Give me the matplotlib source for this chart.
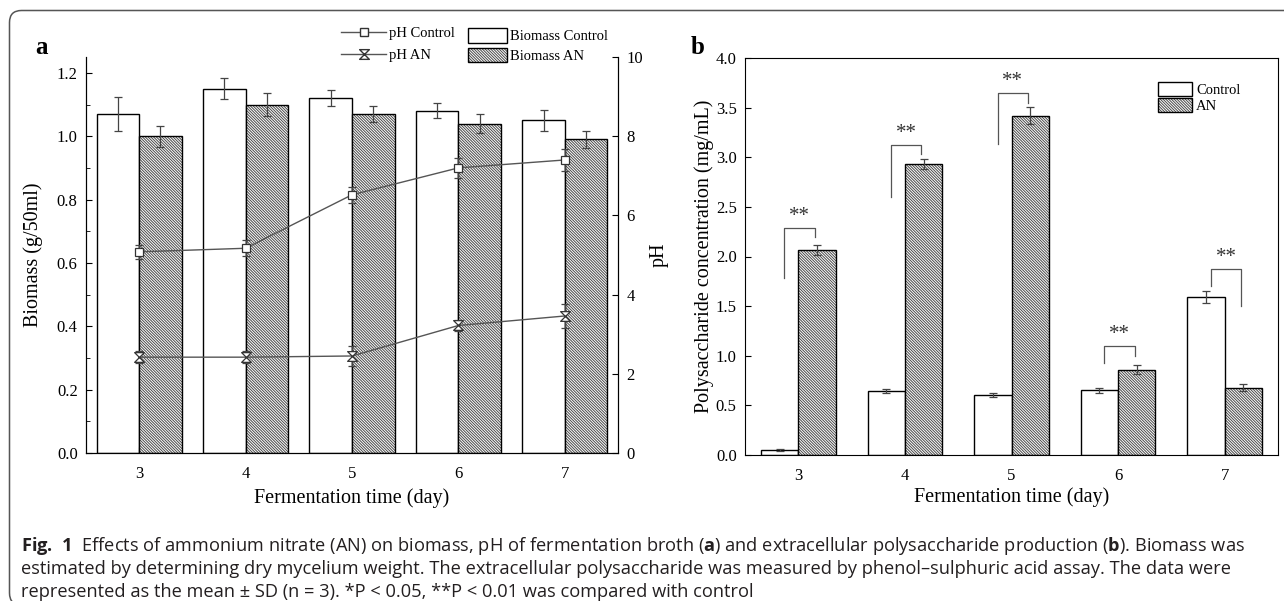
import matplotlib
matplotlib.use('Agg')
import matplotlib.pyplot as plt
import numpy as np
from matplotlib.path import Path
from matplotlib.patches import FancyBboxPatch, Patch
from matplotlib.lines import Line2D
from matplotlib.ticker import MultipleLocator
from matplotlib.transforms import IdentityTransform

# fermentation days
days = [3, 4, 5, 6, 7]

# panel a: biomass (g/50ml)
biomass_ctrl = [1.07, 1.15, 1.12, 1.08, 1.05]
biomass_ctrl_sd = [0.053, 0.033, 0.026, 0.024, 0.034]
biomass_an = [1.00, 1.10, 1.07, 1.04, 0.99]
biomass_an_sd = [0.033, 0.037, 0.026, 0.029, 0.027]

# panel a: pH
ph_ctrl = [5.08, 5.17, 6.52, 7.20, 7.40]
ph_ctrl_sd = [0.18, 0.20, 0.20, 0.25, 0.28]
ph_an = [2.42, 2.42, 2.45, 3.22, 3.46]
ph_an_sd = [0.15, 0.15, 0.25, 0.15, 0.30]

# panel b: polysaccharide (mg/mL)
poly_ctrl = [0.05, 0.64, 0.60, 0.65, 1.59]
poly_ctrl_sd = [0.01, 0.02, 0.02, 0.03, 0.06]
poly_an = [2.07, 2.93, 3.42, 0.86, 0.68]
poly_an_sd = [0.05, 0.05, 0.09, 0.045, 0.04]

# significance brackets in panel b
sig_label = ['**', '**', '**', '**', '**']
sig_top = [2.29, 3.12, 3.65, 1.10, 1.87]
sig_left_end = [1.78, 2.60, 3.13, 0.93, 1.70]
sig_right_end = [2.20, 3.03, 3.55, 1.00, 1.50]

caption = [
    r'$\mathbf{Fig.\ 1}$  Effects of ammonium nitrate (AN) on biomass, pH of fermentation broth ($\mathbf{a}$) '
    r'and extracellular polysaccharide production ($\mathbf{b}$). Biomass was',
    'estimated by determining dry mycelium weight. The extracellular polysaccharide was measured by '
    'phenol\u2013sulphuric acid assay. The data were',
    'represented as the mean \u00b1 SD (n = 3). *P < 0.05, **P < 0.01 was compared with control',
]

plt.rcParams['font.family'] = ['Liberation Serif', 'DejaVu Serif']
plt.rcParams['mathtext.fontset'] = 'custom'
plt.rcParams['mathtext.rm'] = 'Open Sans'
plt.rcParams['mathtext.bf'] = 'Open Sans:bold'
plt.rcParams['hatch.linewidth'] = 0.7
plt.rcParams['xtick.direction'] = 'in'
plt.rcParams['ytick.direction'] = 'in'
plt.rcParams['xtick.labelsize'] = 12
plt.rcParams['ytick.labelsize'] = 12

W, H = 1284, 601
fig = plt.figure(figsize=(W / 100, H / 100), dpi=100)


def px_box(left, top, right, bottom):
    return [left / W, 1 - bottom / H, (right - left) / W, (bottom - top) / H]


HATCH = '\\' * 12
HATCH_COLOR = '#4a4a4a'
err_style = dict(ecolor='#444444', elinewidth=0.9, capsize=3, capthick=0.9)
hourglass = Path([(-1, 1), (1, 1), (-1, -1), (1, -1), (-1, 1)],
                 [Path.MOVETO, Path.LINETO, Path.LINETO, Path.LINETO, Path.CLOSEPOLY])
x = np.array(days)


def hatched_bars(ax, xpos, values, sd, width):
    # grey hatching first, black outline and error bars on top
    ax.bar(xpos, values, width, color='white', edgecolor=HATCH_COLOR, linewidth=0, hatch=HATCH)
    ax.bar(xpos, values, width, yerr=sd, color='none', edgecolor='black', linewidth=1,
           error_kw=err_style)


hatch_handle = (Patch(facecolor='white', edgecolor=HATCH_COLOR, lw=0, hatch=HATCH),
                Patch(facecolor='none', edgecolor='black', lw=1))

# ---------------- panel a ----------------
ax1 = fig.add_axes(px_box(86, 57, 618, 453))
ax1.bar(x - 0.2, biomass_ctrl, 0.4, yerr=biomass_ctrl_sd, color='white',
        edgecolor='black', linewidth=1, error_kw=err_style)
hatched_bars(ax1, x + 0.2, biomass_an, biomass_an_sd, 0.4)
ax1.set_xlim(2.5, 7.5)
ax1.set_ylim(0, 1.25)
ax1.set_xticks(days)
ax1.set_yticks(np.arange(0, 1.21, 0.2))
ax1.yaxis.set_major_formatter(plt.FormatStrFormatter('%.1f'))
ax1.yaxis.set_minor_locator(MultipleLocator(0.1))
ax1.tick_params(axis='y', which='major', length=4, pad=6)
ax1.tick_params(axis='y', which='minor', length=3)
ax1.tick_params(axis='x', length=4, pad=9)
ax1.spines['top'].set_visible(False)
ax1.set_xlabel('Fermentation time (day)', fontsize=14.5, labelpad=5)
ax1.set_ylabel('Biomass (g/50ml)', fontsize=14.5, labelpad=10)

ax1r = ax1.twinx()
ax1r.errorbar(x, ph_ctrl, yerr=ph_ctrl_sd, color='#555555', lw=1, marker='s',
              ms=6, mfc='white', mec='#333333', mew=0.9, capsize=3, ecolor='#444444')
ax1r.errorbar(x, ph_an, yerr=ph_an_sd, color='#555555', lw=1, marker=hourglass,
              ms=7, mfc='white', mec='#333333', mew=0.9, capsize=3, ecolor='#444444')
ax1r.set_ylim(0, 10)
ax1r.set_yticks([0, 2, 4, 6, 8, 10])
ax1r.tick_params(axis='y', length=4, pad=6)
ax1r.spines['top'].set_visible(False)
ax1r.set_ylabel('pH', fontsize=14.5, labelpad=5)

fig.legend(handles=[
    Line2D([], [], color='#555555', lw=1, marker='s', ms=6, mfc='white', mec='#333333'),
    Line2D([], [], color='#555555', lw=1, marker=hourglass, ms=7, mfc='white', mec='#333333')],
    labels=['pH Control', 'pH AN'], loc='upper left', bbox_to_anchor=(341 / W, 1 - 27 / H),
    frameon=False, fontsize=10.5, handlelength=3.1, handletextpad=0.2,
    labelspacing=0.6, borderpad=0, borderaxespad=0)
fig.legend(handles=[Patch(facecolor='white', edgecolor='black', lw=1), hatch_handle],
           labels=['Biomass Control', 'Biomass AN'], loc='upper left',
           bbox_to_anchor=(468 / W, 1 - 28 / H), frameon=False, fontsize=10.5,
           handlelength=2.7, handleheight=1.16, handletextpad=0.15,
           labelspacing=0.3, borderpad=0, borderaxespad=0)

# ---------------- panel b ----------------
ax2 = fig.add_axes(px_box(745, 58, 1278, 455))
ax2.bar(x - 0.175, poly_ctrl, 0.35, yerr=poly_ctrl_sd, color='white',
        edgecolor='black', linewidth=1, error_kw=err_style)
hatched_bars(ax2, x + 0.175, poly_an, poly_an_sd, 0.35)
for i, d in enumerate(days):
    xl, xr = d - 0.13, d + 0.155
    ax2.plot([xl, xl, xr, xr], [sig_left_end[i], sig_top[i], sig_top[i], sig_right_end[i]],
             color='#555555', lw=0.9)
    ax2.text((xl + xr) / 2, sig_top[i] + 0.02, sig_label[i], ha='center', va='bottom',
             fontsize=15, color='#333333')
ax2.set_xlim(2.5, 7.5)
ax2.set_ylim(0, 4)
ax2.set_xticks(days)
ax2.set_yticks(np.arange(0, 4.01, 0.5))
ax2.yaxis.set_major_formatter(plt.FormatStrFormatter('%.1f'))
ax2.tick_params(axis='y', length=4, pad=6)
ax2.tick_params(axis='x', length=4, pad=9)
ax2.set_xlabel('Fermentation time (day)', fontsize=14.5, labelpad=3)
ax2.set_ylabel('Polysaccharide concentration (mg/mL)', fontsize=14.5, labelpad=1)
ax2.legend(handles=[Patch(facecolor='white', edgecolor='black', lw=1), hatch_handle],
           labels=['Control', 'AN'], loc='upper left', bbox_to_anchor=(1158 / W, 1 - 82 / H),
           bbox_transform=fig.transFigure, frameon=False, fontsize=10.5,
           handlelength=2.35, handleheight=1.1, handletextpad=0.25,
           labelspacing=0.1, borderpad=0, borderaxespad=0)

# panel letters
fig.text(35 / W, 1 - 48 / H, 'a', fontsize=18, weight='bold', va='center')
fig.text(691 / W, 1 - 48 / H, 'b', fontsize=18, weight='bold', va='center')

# rounded frame around the figure (bottom and right run off the picture)
fig.add_artist(FancyBboxPatch((9.5, -4), 1400, 594.5, boxstyle='round,pad=0,rounding_size=12',
                              transform=IdentityTransform(), facecolor='none',
                              edgecolor='#555555', lw=1.1))

# caption, fitted to the width of the first line
renderer = fig.canvas.get_renderer()
cap_texts = []
for k, line in enumerate(caption):
    t = fig.text(21 / W, 1 - (546 + 23 * k) / H, line, fontsize=11, family='Open Sans',
                 color='#231f20', va='center')
    cap_texts.append(t)
w0 = cap_texts[0].get_window_extent(renderer).width
size = 11 * (1245 - 21) / w0
for t in cap_texts:
    t.set_fontsize(size)

fig.savefig('out.png', dpi=100)
